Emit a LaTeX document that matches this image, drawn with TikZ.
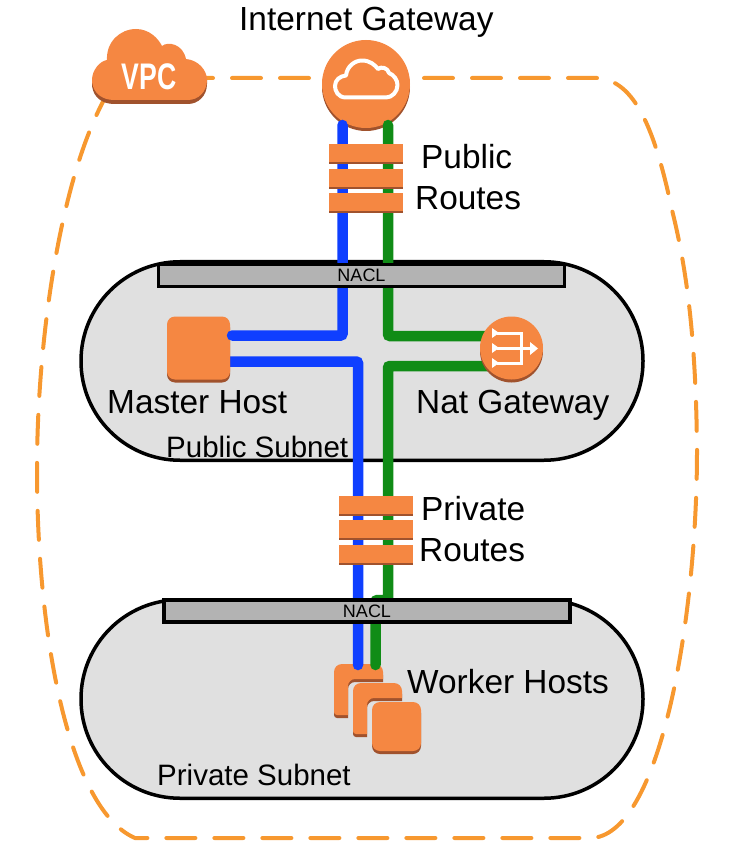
\documentclass[tikz,border=0pt]{standalone}
\usepackage{xcolor}
\usepackage{fontspec}
\setmainfont{Liberation Sans}
\usepackage{tikz}
\usetikzlibrary{positioning}

\definecolor{awsorange}{HTML}{F58742}
\definecolor{awsdark}{HTML}{A0522D}
\definecolor{vpcdash}{HTML}{F7982F}
\definecolor{subnetgray}{HTML}{E0E0E0}
\definecolor{naclgray}{HTML}{B3B3B3}
\definecolor{routeblue}{HTML}{0F3FFF}
\definecolor{routegreen}{HTML}{108C16}

\tikzset{
    subnet/.style={draw=black, line width=3.5pt, fill=subnetgray, rounded corners=99pt, minimum width=562pt, minimum height=198.5pt, inner sep=0pt},
    nacl/.style={draw=black, line width=3.5pt, fill=naclgray, minimum width=406pt, minimum height=22pt, inner sep=0pt, font=\fontsize{18}{20}\selectfont},
    routebar/.style={fill=awsorange, minimum width=74pt, minimum height=18pt, inner sep=0pt, preaction={fill=awsdark, transform canvas={yshift=-2pt}}},
    hostbox/.style={fill=awsorange, rounded corners=8pt, minimum size=63pt, inner sep=0pt, preaction={fill=awsdark, transform canvas={yshift=-3pt}}},
    workerbox/.style={hostbox, minimum size=49pt},
    roundicon/.style={circle, fill=awsorange, inner sep=0pt, preaction={fill=awsdark, transform canvas={yshift=-3pt}}},
    label/.style={anchor=base west, inner sep=0pt, font=\fontsize{33.4}{36}\selectfont},
    sublabel/.style={anchor=base west, inner sep=0pt, font=\fontsize{29.5}{32}\selectfont},
    blueline/.style={draw=routeblue, line width=10.5pt, line cap=round, rounded corners=2pt},
    greenline/.style={draw=routegreen, line width=10.5pt, line cap=round, rounded corners=2pt},
    notched/.pic={
        \fill[awsdark] (0,11) arc (180:270:8) -- (41,3) arc (-90:0:8) -- (49,18) -- (21,18) arc (270:180:7) -- (14,54) -- (3,54) arc (90:180:3) -- cycle;
        \fill[awsorange] (0,8) arc (180:270:8) -- (41,0) arc (-90:0:8) -- (49,15) -- (21,15) arc (270:180:7) -- (14,51) -- (3,51) arc (90:180:3) -- cycle;
    }
}

\begin{document}
\begin{tikzpicture}[x=1pt, y=-1pt]
        \useasboundingbox (0,0) rectangle (734,866);
%
        \draw[vpcdash, line width=4pt, line cap=round, dash pattern=on 29pt off 19pt, dash phase=22pt]
            (206,78) -- (597,78)
            .. controls (635,80) and (655,130) .. (672,210)
            .. controls (687,270) and (696,340) .. (697,450)
            .. controls (697,620) and (660,838) .. (590,838)
            -- (135,838)
            .. controls (70,810) and (37,640) .. (37,470)
            .. controls (37,340) and (60,180) .. (105,98);
%
        \node[subnet] (pubnet) at (362,361) {};
        \node[subnet] (privnet) at (362,699) {};
        \node[roundicon, minimum size=88pt] (igw) at (366,84) {};
%
        \coordinate (bluetop) at (342.5,125);
        \coordinate (bluebend) at (342.5,335.5);
        \coordinate (blueend) at (232,335.5);
        \coordinate (bluestart) at (225,361.5);
        \coordinate (bluedown) at (358,361.5);
        \coordinate (bluework) at (358,665);
        \coordinate (greentop) at (388,125);
        \coordinate (greenbend) at (388,336);
        \coordinate (greenend) at (490,336);
        \coordinate (greenstart) at (490,366);
        \coordinate (greendown) at (388,366);
        \coordinate (greenjog) at (388,600);
        \coordinate (greenleft) at (375.5,600);
        \coordinate (greenwork) at (375.5,665);
%
        \pic at (334,664) {notched};
        \pic at (353,683) {notched};
        \node[workerbox] (workers) at (396.5,726.5) {};
%
        \draw[blueline] (bluestart) -- (bluedown) -- (bluework);
        \node[hostbox] (master) at (198.5,348) {};
        \draw[blueline] (bluetop) -- (bluebend) -- (blueend);
        \draw[greenline] (greentop) -- (greenbend) -- (greenend);
        \draw[greenline] (greenstart) -- (greendown) -- (greenjog) -- (greenleft) -- (greenwork);
        \node[roundicon, minimum size=63pt] (nat) at (511.5,348) {};
%
        \node[routebar] (puba) at (366,153) {};
        \node[routebar, below=7pt of puba] (pubb) {};
        \node[routebar, below=5pt of pubb] (pubc) {};
        \node[routebar] (priva) at (376,505) {};
        \node[routebar, below=6pt of priva] (privb) {};
        \node[routebar, below=6pt of privb] (privc) {};
%
        \node[nacl] (naclone) at (361.5,275.5) {NACL};
        \node[nacl] (nacltwo) at (367,611) {NACL};
%
        % cloud badge
        \fill[awsdark] (115,104) .. controls (97,104) and (92,92) .. (92,84) -- (92,80) -- (207,80) -- (207,84) .. controls (207,96) and (198,104) .. (188,104) -- cycle;
        \fill[awsorange] (115,100) .. controls (97,100) and (92,88) .. (92,80)
            .. controls (92,70) and (100,61) .. (107,60)
            .. controls (106,42) and (120,29) .. (136,29)
            .. controls (149,29) and (158,38) .. (162,46)
            .. controls (168,41) and (183,44) .. (186,59)
            .. controls (198,60) and (207,70) .. (207,80)
            .. controls (207,92) and (198,100) .. (188,100) -- cycle;
        \node[text=white, inner sep=0pt, font=\fontsize{37}{40}\selectfont\bfseries] (vpc) at (149,76.5) {\scalebox{.72}[1]{VPC}};
%
        % gateway glyph
        \draw[white, line width=4pt, line join=round] (346,97.5)
            .. controls (338,97.5) and (335,91) .. (335,86)
            .. controls (335,80) and (340,76) .. (346,75.5)
            .. controls (347,66) and (355,60.5) .. (362,60.5)
            .. controls (370,60.5) and (375,65) .. (378,69)
            .. controls (381,66) and (388,68) .. (389,73)
            .. controls (394,75) and (397.5,80) .. (397.5,85)
            .. controls (397.5,92) and (392,97.5) .. (386,97.5) -- cycle;
%
        % nat glyph
        \draw[white, line width=3pt] (497,333) -- (521,333) -- (521,363) -- (497,363);
        \draw[white, line width=3pt] (497,348) -- (531,348);
        \fill[white] (492,328) -- (499,333) -- (492,338) -- cycle;
        \fill[white] (492,343) -- (499,348) -- (492,353) -- cycle;
        \fill[white] (492,358) -- (499,363) -- (492,368) -- cycle;
        \fill[white] (530,342) -- (538,348.5) -- (530,355) -- cycle;
%
        \node[label] (igwtext) at (239,31) {Internet Gateway};
        \node[label] (pubtext) at (421,169) {Public};
        \node[label] (pubroutes) at (415,210) {Routes};
        \node[label] (mastertext) at (107,413) {Master Host};
        \node[label] (nattext) at (416,413) {Nat Gateway};
        \node[sublabel] (pubsub) at (166,457) {Public Subnet};
        \node[label] (privtext) at (421,520) {Private};
        \node[label] (privroutes) at (419,561) {Routes};
        \node[label] (workertext) at (407,693) {Worker Hosts};
        \node[sublabel] (privsub) at (157,785) {Private Subnet};
\end{tikzpicture}
\end{document}
